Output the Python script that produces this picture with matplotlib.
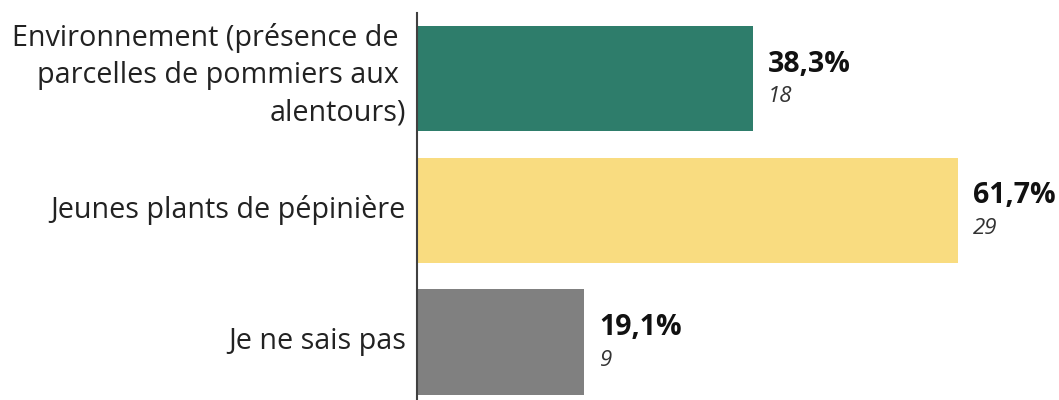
import matplotlib.pyplot as plt

categories = ["Environnement (présence de \nparcelles de pommiers aux \nalentours)",
              "Jeunes plants de pépinière",
              "Je ne sais pas"]
percents = [38.3, 61.7, 19.1]
counts = [18, 29, 9]
colors = ["#2E7D6B", "#F9DC80", "#808080"]

plt.rcParams['font.family'] = ['Open Sans', 'DejaVu Sans']

fig = plt.figure(figsize=(10.59, 4.0), dpi=100)
ax = fig.add_axes([417 / 1059, 0.0, 640 / 1059, 387 / 400])

pos = list(range(len(categories)))
ax.barh(pos, percents, height=0.8, color=colors)
ax.set_xlim(0, 73)
ax.set_ylim(2.44, -0.5)
ax.set_yticks([])
ax.set_xticks([])

# category labels to the left of the axis line
for i, (y, lab) in enumerate(zip(pos, categories)):
    dy = 2.5 if i == 0 else 0.5
    ax.annotate(lab, (0, y), xytext=(-8, dy), textcoords="offset points",
                ha="right", va="center", multialignment="right",
                fontsize=20.7, color="#222222", linespacing=1.36,
                annotation_clip=False)

for s in ["top", "right", "bottom"]:
    ax.spines[s].set_visible(False)
ax.spines["left"].set_color("#404040")
ax.spines["left"].set_linewidth(1.5)

for y, p, c in zip(pos, percents, counts):
    ax.annotate(f"{p:.1f}%".replace(".", ","), (p, y), xytext=(11, 10.5),
                textcoords="offset points", ha="left", va="center",
                fontsize=20.5, fontweight="bold", color="#111111")
    ax.annotate(str(c), (p, y), xytext=(11, -13),
                textcoords="offset points", ha="left", va="center",
                fontsize=16, fontstyle="italic", color="#333333")

fig.savefig("out.png", dpi=100)
